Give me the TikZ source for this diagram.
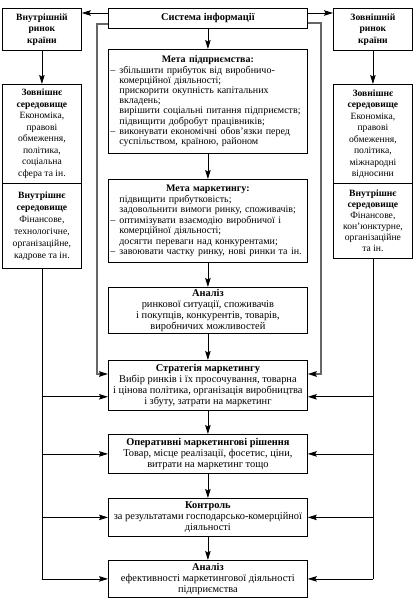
\documentclass[tikz,border=0pt]{standalone}
\usepackage{fontspec}
\setmainfont{Liberation Serif}
\usetikzlibrary{arrows.meta,calc}
\newcommand\dsh[1]{\makebox[9pt][l]{–}\mbox{#1}}
\newcommand\ind[1]{\hspace*{9pt}\mbox{#1}}
\newcommand\noind{\setlength{\parindent}{0pt}}
\begin{document}
\begin{tikzpicture}[x=1pt,y=-1pt,
  box/.style={draw, line width=0.8pt, inner sep=0pt, align=center, anchor=north west,
    font=\fontsize{9.6}{11.5}\selectfont},
  cbox/.style={box, minimum width=199pt, font=\fontsize{10.4}{11}\selectfont},
  sbox/.style={box, minimum width=79pt},
  gbox/.style={draw, line width=0.8pt, inner xsep=2pt, inner ysep=0pt, anchor=north west,
    text width=195pt, align=left, font=\fontsize{10}{10.2}\selectfont},
  ln/.style={line width=0.8pt},
  arr/.style={ln, -{Stealth[length=9pt,width=5.5pt,inset=1.5pt]}},
  gl/.style={line width=1.6pt, draw=black!60},
  garr/.style={gl, -{Stealth[length=9pt,width=5.5pt,inset=1.5pt,color=black]}}]
\useasboundingbox (0,0) rectangle (415,601);

% top row
\node[cbox, minimum height=20pt] (sys) at (108,8) {\textbf{Система інформації}};
\node[sbox, minimum height=42pt] (lt) at (2,8) {\textbf{Внутрішній}\\\textbf{ринок}\\\textbf{країни}};
\node[sbox, minimum height=42pt] (rt) at (333,8) {\textbf{Зовнішній}\\\textbf{ринок}\\\textbf{країни}};

% left column
\node[sbox, minimum height=99pt] (lenv1) at (2,84) {\textbf{Зовнішнє}\\\textbf{середовище}\\Економіка,\\правові\\обмеження,\\політика,\\соціальна\\сфера та ін.};
\node[sbox, minimum height=85pt, font=\fontsize{9.6}{12}\selectfont] (lenv2) at (2,183) {\textbf{Внутрішнє}\\\textbf{середовище}\\Фінансове,\\технологічне,\\організаційне,\\кадрове та ін.};

% right column
\node[sbox, minimum height=99pt] (renv1) at (333,84) {\textbf{Зовнішнє}\\\textbf{середовище}\\Економіка,\\правові\\обмеження,\\політика,\\міжнародні\\відносини};
\node[sbox, minimum height=75pt, font=\fontsize{9.6}{11}\selectfont] (renv2) at (333,183) {\textbf{Внутрішнє}\\\textbf{середовище}\\Фінансове,\\кон’юнктурне,\\організаційне\\та ін.};

% centre column
\node[gbox, minimum height=104pt] (mp) at (108,49) {\noind
{\centering\textbf{Мета підприємства:}\par}
\dsh{збільшити прибуток від виробничо-}\\
\ind{комерційної діяльності;}\\
\ind{прискорити окупність капітальних}\\
\ind{вкладень;}\\
\ind{вирішити соціальні питання підприємств;}\\
\ind{підвищити добробут працівників;}\\
\dsh{виконувати економічні обов’язки перед}\\
\ind{суспільством, країною, районом}};

\node[gbox, minimum height=83pt, font=\fontsize{10}{10.5}\selectfont] (mm) at (108,179) {\noind
{\centering\textbf{Мета маркетингу:}\par}
\ind{підвищити прибутковість;}\\
\ind{задовольнити вимоги ринку, споживачів;}\\
\dsh{оптимізувати взаємодію виробничої і}\\
\ind{комерційної діяльності;}\\
\ind{досягти переваги над конкурентами;}\\
\dsh{завоювати частку ринку, нові ринки та ін.}};

\node[cbox, minimum height=46pt] (an1) at (108,287) {\textbf{Аналіз}\\ринкової ситуації, споживачів\\і покупців, конкурентів, товарів,\\виробничих можливостей};
\node[cbox, minimum height=50pt] (str) at (108,360) {\textbf{Стратегія маркетингу}\\Вибір ринків і їх просочування, товарна\\і цінова політика, організація виробництва\\і збуту, затрати на маркетинг};
\node[cbox, minimum height=39pt] (op) at (108,434) {\textbf{Оперативні маркетингові рішення}\\Товар, місце реалізації, фосетис, ціни,\\витрати на маркетинг тощо};
\node[cbox, minimum height=38pt] (ctl) at (108,498) {\textbf{Контроль}\\за результатами господарсько-комерційної\\діяльності};
\node[cbox, minimum height=37pt] (an2) at (108,560) {\textbf{Аналіз}\\ефективності маркетингової діяльності\\підприємства};

% top arrows
\draw[arr] ([yshift=-5pt]sys.north west) -- ([yshift=-5pt]sys.north west -| lt.east);
\draw[arr] ([yshift=-5pt]sys.north east) -- ([yshift=-5pt]sys.north east -| rt.west);
\draw[arr] (lt.south) -- (lenv1.north);
\draw[arr] (rt.south) -- (rt.south |- renv1.north);

% centre chain
\draw[arr] (sys.south) -- (mp.north);
\draw[arr] (mp.south) -- (mm.north);
\draw[arr] (mm.south) -- (an1.north);
\draw[arr] (an1.south) -- (str.north);
\draw[arr] (str.south) -- (op.north);
\draw[arr] (op.south) -- (ctl.north);
\draw[arr] (ctl.south) -- (an2.north);

% grey brackets from information system to strategy
\coordinate (gL) at ([yshift=-14pt]str.north west);
\coordinate (gR) at ([yshift=-14pt]str.north east);
\draw[garr] ([yshift=5pt]sys.south west) -- ++(-11,0) |- (gL);
\draw[garr] ([yshift=6pt]sys.south east) -- ++(13,0) |- (gR);

% outer feedback lines
\coordinate (sL) at ([yshift=14pt]str.south west);
\coordinate (sR) at ([yshift=14pt]str.south east);
\draw[ln] (lenv2.south) -- (lenv2.south |- an2.west);
\draw[ln] (renv2.south) -- (renv2.south |- an2.east);
\draw[arr] (lenv2.south |- sL) -- (sL);
\draw[arr] (lenv2.south |- op.west) -- (op.west);
\draw[arr] (lenv2.south |- ctl.west) -- (ctl.west);
\draw[arr] (lenv2.south |- an2.west) -- (an2.west);
\draw[arr] (renv2.south |- sR) -- (sR);
\draw[arr] (renv2.south |- op.east) -- (op.east);
\draw[arr] (renv2.south |- ctl.east) -- (ctl.east);
\draw[arr] (renv2.south |- an2.east) -- (an2.east);
\end{tikzpicture}
\end{document}
